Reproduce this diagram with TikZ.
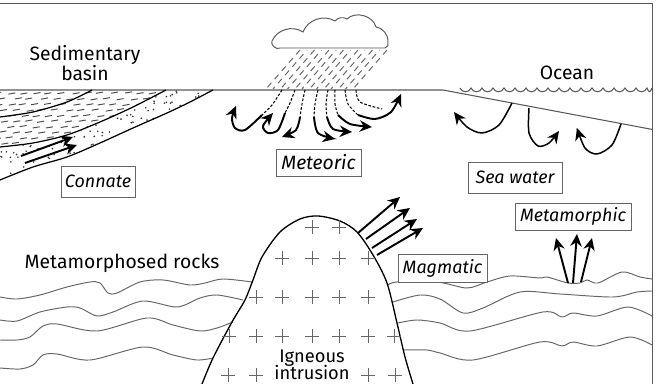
\documentclass[tikz,border=0pt]{standalone}
\usepackage{fontspec}
\setmainfont{Fira Sans}
\usetikzlibrary{arrows.meta}
\tikzset{
    frameline/.style={draw=black!65, line width=0.6pt},
    rockline/.style={draw=black!60, line width=0.55pt},
    crossmark/.style={draw=black!60, line width=0.45pt},
    bedline/.style={draw=black, line width=0.7pt},
    flow/.style={draw=black, line width=1.1pt, -{Stealth[length=7pt, width=6.5pt]}},
    seep/.style={draw=black, line width=0.6pt, dash pattern=on 1.5pt off 1pt},
    rain/.style={draw=black!60, line width=0.55pt},
    namebox/.style={draw=black!60, line width=0.55pt, fill=white, inner sep=0pt, font=\itshape\fontsize{10.2}{12}\selectfont},
    place/.style={inner sep=0pt, align=center, font=\fontsize{11}{13}\selectfont}
}
\begin{document}
\begin{tikzpicture}[x=0.02cm, y=-0.02cm]
    \useasboundingbox (0,0) rectangle (657,384);
    \fill[white] (0,0) rectangle (657,384);

    % Frame and ground surface
    \draw[frameline] (0,3.5) -- (652.5,3.5) -- (652.5,384);
    \draw[frameline] (0,90) -- (443,90) -- (652.5,129.5);
    \draw[frameline] (460,88) foreach \x in {471,482,...,647,652} { .. controls +(2,5) and +(-2,5) .. (\x,88) };

    % Basin fill, shale above the lower bed and sand below it
    \pgfmathsetseed{41}
    \begin{scope}
        \clip (0,90) -- (166,90) -- plot[smooth] coordinates {(166,90) (133,107) (100,122) (67,135) (33,143) (0,147)} -- cycle;
        \foreach \r in {0,...,10} {
            \foreach \c in {0,...,13} {
                \pgfmathsetmacro{\px}{\c*13+mod(\r,2)*6+rnd*4-8}
                \pgfmathsetmacro{\py}{93+\r*5.6+rnd*1.5}
                \draw[black!70, line width=0.55pt] (\px,\py) -- ++(7,-1.2);
            }
        }
    \end{scope}
    \begin{scope}
        \clip plot[smooth] coordinates {(0,147) (33,143) (67,135) (100,122) (133,107) (166,90)} -- (213,90) -- plot[smooth] coordinates {(213,90) (190,102) (167,113) (133,128) (100,143) (67,157) (33,167) (0,180)} -- cycle;
        \foreach \n in {1,...,300} {
            \pgfmathsetmacro{\px}{rnd*215}
            \pgfmathsetmacro{\py}{rnd*90+91}
            \fill[black!80] (\px,\py) circle (0.9);
        }
    \end{scope}
    \draw[bedline] plot[smooth] coordinates {(0,117) (33,112) (67,102) (92,90)};
    \draw[bedline] plot[smooth] coordinates {(0,147) (33,143) (67,135) (100,122) (133,107) (166,90)};
    \draw[bedline] plot[smooth] coordinates {(0,180) (33,167) (67,157) (100,143) (133,128) (167,113) (190,102) (213,90)};
    \draw[flow] (21,156) -- (73,137);
    \draw[flow] (25,163) -- (77,145);

    % Cloud and rain
    \draw[black!65, line width=0.55pt] (280,48) to[bend left=80] (272,41) to[bend left=50] (303,32)
        to[bend left=50] (335,21) to[bend left=40] (347,19) to[bend left=60] (376,27)
        to[bend left=40] (388,42) to[bend left=50] (385,48) -- cycle;
    \foreach \x in {300,314.5,329,343.5,358,372.5,387}
        \draw[rain, dash pattern=on 3.4pt off 2.8pt] (\x,50) -- ++(-34,39);
    \foreach \x in {307,321.5,336,350.5,365,379.5}
        \draw[rain, dash pattern=on 3.4pt off 2.8pt, dash phase=3.1pt] (\x,50) -- ++(-34,39);

    % Inflow from the surface
    \draw[seep] plot[smooth] coordinates {(282,90) (272,105) (262,115)};
    \draw[flow] plot[smooth] coordinates {(262,115) (245,130) (235,128) (232,118) (236,106)};
    \draw[seep] plot[smooth] coordinates {(295,90) (290,103) (285,113)};
    \draw[flow] plot[smooth] coordinates {(285,113) (278,130) (268,133) (263,126) (273,113)};
    \draw[seep] plot[smooth] coordinates {(305,90) (302,104) (300,117)};
    \draw[flow] plot[smooth] coordinates {(300,117) (296,130) (282,137)};
    \draw[seep] plot[smooth] coordinates {(318,90) (315,104) (314,117)};
    \draw[flow] plot[smooth] coordinates {(314,117) (318,133) (335,139)};
    \draw[seep] plot[smooth] coordinates {(328,90) (326,104) (327,117)};
    \draw[flow] plot[smooth] coordinates {(327,117) (333,129) (352,132)};
    \draw[seep] plot[smooth] coordinates {(335,90) (335,104) (338,115)};
    \draw[flow] plot[smooth] coordinates {(338,115) (350,124) (372,127)};
    \draw[seep] plot[smooth] coordinates {(345,90) (348,104) (358,115)};
    \draw[flow] plot[smooth] coordinates {(358,115) (375,119) (391,112) (401,94)};
    \draw[seep] plot[smooth] coordinates {(356,90) (360,102) (382,109)};

    % Sea water arrows
    \draw[flow, line width=0.85pt] plot[smooth] coordinates {(512,103) (499,125) (482,133) (467,127) (454,112)};
    \draw[flow, line width=0.85pt] plot[smooth] coordinates {(529,108) (529,133) (538,146) (549,143) (559,131)};
    \draw[flow, line width=0.85pt] plot[smooth] coordinates {(621,124) (612,145) (597,154) (585,148) (577,128)};

    % Metamorphosed rocks
    \draw[rockline] plot[smooth] coordinates {(0,297) (17,299) (40,295) (67,287) (90,282) (100,283) (108,293) (117,293) (140,282) (163,280) (190,285) (205,283) (223,279) (252,282)};
    \draw[rockline] plot[smooth] coordinates {(0,320) (17,321) (40,312) (67,307) (80,308) (97,316) (113,312) (143,301) (177,307) (200,298) (217,295) (243,300)};
    \draw[rockline] plot[smooth] coordinates {(0,340) (17,340) (30,337) (43,326) (57,324) (97,331) (147,318) (173,325) (200,331) (217,328) (233,322)};
    \draw[rockline] plot[smooth] coordinates {(0,368) (20,369) (33,365) (43,355) (57,354) (90,360) (143,347) (173,355) (197,360) (213,358)};
    \draw[rockline] plot[smooth] coordinates {(388,285) (397,282) (437,282) (467,288) (487,282) (510,276) (540,278) (547,277) (568,283) (580,283) (587,280) (598,283) (622,272) (640,277) (652,279)};
    \draw[rockline] plot[smooth] coordinates {(393,302) (420,295) (440,299) (463,313) (483,308) (520,292) (560,294) (613,297) (637,292) (652,291)};
    \draw[rockline] plot[smooth] coordinates {(398,323) (417,320) (440,323) (470,331) (543,312) (562,317) (573,313) (597,316) (628,307) (652,316)};
    \draw[rockline] plot[smooth] coordinates {(404,350) (427,350) (440,353) (473,360) (540,342) (562,346) (573,342) (597,346) (630,337) (652,345)};

    % Igneous intrusion
    \draw[black, line width=0.75pt] plot[smooth] coordinates {(202,384) (213,358) (232,322) (245,300) (253,280) (262,257) (280,232) (300,219) (318,216) (340,221) (357,232) (373,255) (387,283) (397,323) (405,357) (413,384)};
    \foreach \x/\y in {312/227, 339/227,
        282/258, 312/258, 339/258, 368/258,
        256/297, 282/297, 312/297, 339/297, 368/297,
        229/336, 256/336, 282/336, 312/336, 339/336, 368/336, 394/336,
        228/375, 256/375, 368/375, 395/375}
        \draw[crossmark] (\x-7,\y) -- (\x+7,\y) (\x,\y-7) -- (\x,\y+7);
    \draw[flow] (358,233) -- (400,197);
    \draw[flow] (366,239) -- (410,208);
    \draw[flow] (372,248) -- (417,219);
    \draw[flow] (377,255) -- (423,228);

    % Metamorphic fluid
    \draw[flow] (568,283) -- (556,238);
    \draw[flow] (573,283) -- (577,234);
    \draw[flow] (581,282) -- (592,238);

    % Nodes
    \node[place] (sedimentary) at (85,63) {Sedimentary\\[-2pt]basin};
    \node[place] (ocean) at (567,73) {Ocean};
    \node[place] (rocks) at (122,263) {Metamorphosed rocks};
    \node[place, font=\fontsize{10.4}{11}\selectfont] (igneous) at (312,365) {Igneous\\[-1.5pt]intrusion};
    \node[namebox, minimum width=74*0.02cm, minimum height=31*0.02cm] (connate) at (98,181.5) {Connate};
    \node[namebox, font=\itshape\fontsize{11}{12}\selectfont, minimum width=85*0.02cm, minimum height=27*0.02cm] (meteoric) at (318.5,162.5) {Meteoric};
    \node[namebox, minimum width=94*0.02cm, minimum height=31*0.02cm] (seawater) at (515,177.5) {Sea water};
    \node[namebox, minimum width=116*0.02cm, minimum height=27*0.02cm] (metamorphic) at (573,216.5) {Metamorphic};
    \node[namebox, minimum width=89*0.02cm, minimum height=28*0.02cm] (magmatic) at (442.5,268) {Magmatic};
\end{tikzpicture}
\end{document}
